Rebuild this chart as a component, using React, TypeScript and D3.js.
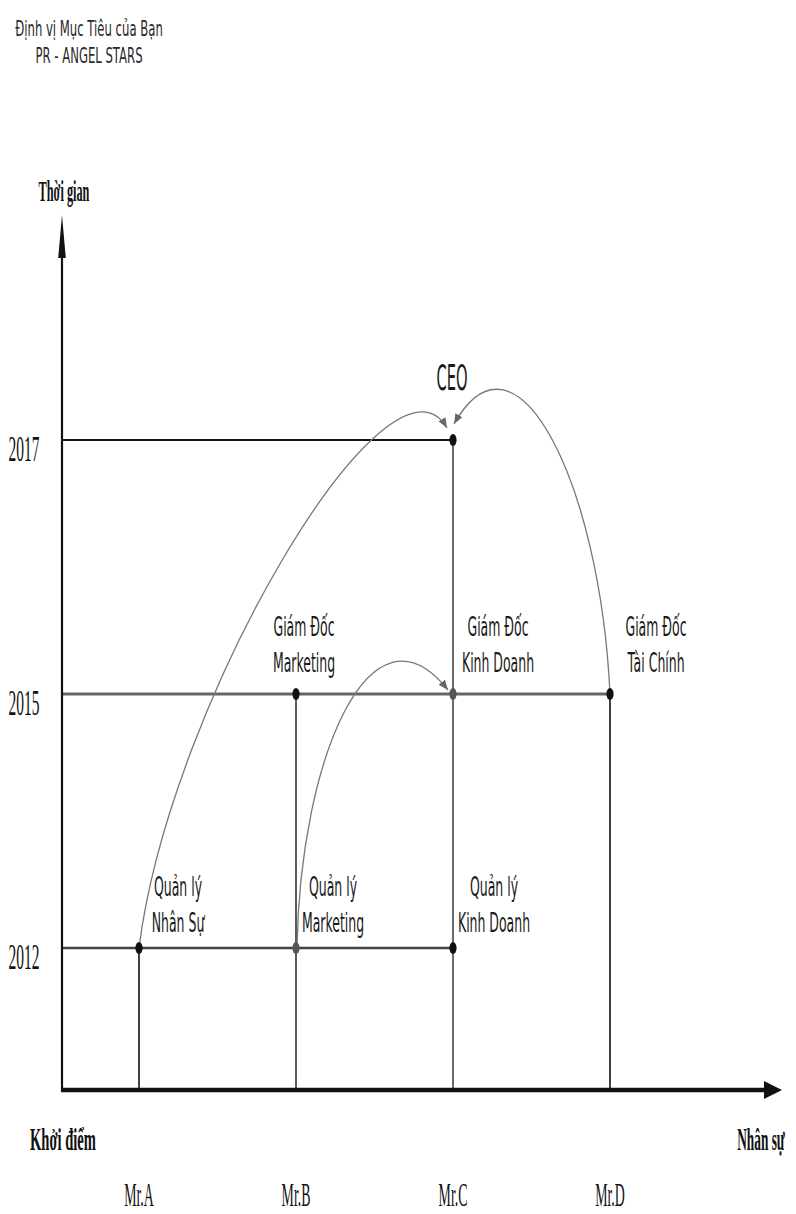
import React from "react";
import * as d3 from "d3";

// ---------- data ----------
const people = ["Mr.A", "Mr.B", "Mr.C", "Mr.D"];
const years = ["2012", "2015", "2017"];
const titleLines = ["Định vị Mục Tiêu của Bạn", "PR - ANGEL STARS"];
const yAxisTitle = "Thời gian";
const xAxisTitle = "Nhân sự";
const originLabel = "Khởi điểm";

const roles = [
  { id: "qlns", person: "Mr.A", year: "2012", lines: ["Quản lý", "Nhân Sự"] },
  { id: "qlmk", person: "Mr.B", year: "2012", lines: ["Quản lý", "Marketing"] },
  { id: "qlkd", person: "Mr.C", year: "2012", lines: ["Quản lý", "Kinh Doanh"] },
  { id: "gdmk", person: "Mr.B", year: "2015", lines: ["Giám Đốc", "Marketing"] },
  { id: "gdkd", person: "Mr.C", year: "2015", lines: ["Giám Đốc", "Kinh Doanh"] },
  { id: "gdtc", person: "Mr.D", year: "2015", lines: ["Giám Đốc", "Tài Chính"] },
  { id: "ceo", person: "Mr.C", year: "2017", lines: ["CEO"] },
];

const promotions = [
  { id: "p1", from: "qlns", to: "ceo" },
  { id: "p2", from: "qlmk", to: "gdkd" },
  { id: "p3", from: "gdtc", to: "ceo" },
];

// ---------- layout / style ----------
const W = 796;
const H = 1214;
const AXIS_X = 62;
const AXIS_Y = 1090;
const SANS = "'DejaVu Sans', sans-serif";
const SERIF = "'Liberation Serif', 'Times New Roman', serif";

const labelStyle: Record<string, { dx: number }> = {
  qlns: { dx: 39 },
  qlmk: { dx: 37 },
  qlkd: { dx: 41 },
  gdmk: { dx: 8 },
  gdkd: { dx: 45 },
  gdtc: { dx: 46 },
  ceo: { dx: -1 },
};
const dotColor: Record<string, string> = {
  qlns: "#111",
  qlmk: "#555",
  qlkd: "#111",
  gdmk: "#111",
  gdkd: "#555",
  gdtc: "#111",
  ceo: "#111",
};
const yearLineStyle: Record<string, { color: string; width: number }> = {
  "2012": { color: "#444", width: 2.6 },
  "2015": { color: "#666", width: 2.8 },
  "2017": { color: "#111", width: 2.2 },
};
const personLineColor: Record<string, string> = {
  "Mr.A": "#111",
  "Mr.B": "#333",
  "Mr.C": "#444",
  "Mr.D": "#111",
};
// curve shapes: start/end offsets and control offsets (relative to start/end)
const curveShape: Record<string, { s: [number, number]; e: [number, number]; c1: [number, number]; c2: [number, number] }> = {
  p1: { s: [0, 0], e: [-6, -12], c1: [31, -248], c2: [-57, -98] },
  p2: { s: [1, 0], e: [-5, -4], c1: [3, -188], c2: [-78, -98] },
  p3: { s: [0, 0], e: [1, -16], c1: [-10, -212], c2: [62, -110] },
};

const x = d3.scalePoint<string>().domain(people).range([139, 610]);
const y = d3.scalePoint<string>().domain(years).range([948, 440]);

function Squeezed(props: {
  x: number;
  y: number;
  sx: number;
  anchor?: string;
  size: number;
  family: string;
  weight?: string | number;
  fill?: string;
  children: React.ReactNode;
}) {
  return (
    <g transform={`translate(${props.x},${props.y}) scale(${props.sx},1)`}>
      <text
        x={0}
        y={0}
        textAnchor={props.anchor || "middle"}
        fontSize={props.size}
        fontFamily={props.family}
        fontWeight={props.weight || "normal"}
        fill={props.fill || "#111"}
      >
        {props.children}
      </text>
    </g>
  );
}

export default function App() {
  const roleById = new Map(roles.map((r) => [r.id, r]));

  // horizontal lines: from axis to furthest person for each year
  const hLines = years.map((yr) => {
    const xs = roles.filter((r) => r.year === yr).map((r) => x(r.person)!);
    return { year: yr, x2: d3.max(xs)! };
  });
  // vertical lines: from axis to highest year for each person
  const vLines = people.map((p) => {
    const ys = roles.filter((r) => r.person === p).map((r) => y(r.year)!);
    return { person: p, y2: d3.min(ys)! };
  });

  const curves = promotions.map((pr) => {
    const a = roleById.get(pr.from)!;
    const b = roleById.get(pr.to)!;
    const sh = curveShape[pr.id];
    const sx0 = x(a.person)! + sh.s[0];
    const sy0 = y(a.year)! + sh.s[1];
    const ex = x(b.person)! + sh.e[0];
    const ey = y(b.year)! + sh.e[1];
    const p = d3.path();
    p.moveTo(sx0, sy0);
    p.bezierCurveTo(sx0 + sh.c1[0], sy0 + sh.c1[1], ex + sh.c2[0], ey + sh.c2[1], ex, ey);
    return { id: pr.id, d: p.toString() };
  });

  return (
    <svg
      width={W}
      height={H}
      viewBox={`0 0 ${W} ${H}`}
      style={{ position: "absolute", left: 0, top: 0, background: "#fff" }}
    >
      <defs>
        <marker
          id="arr"
          markerUnits="userSpaceOnUse"
          markerWidth={12}
          markerHeight={10}
          refX={10}
          refY={4}
          orient="auto"
        >
          <path d="M0,0 L10,4 L0,8 Z" fill="#666" />
        </marker>
      </defs>
      <rect x={0} y={0} width={W} height={H} fill="#fff" />

      {/* title */}
      {titleLines.map((t, i) => (
        <Squeezed key={t} x={89} y={36 + i * 27} sx={0.53} size={22} family={SANS} fill="#2a2a2a">
          {t}
        </Squeezed>
      ))}

      {/* y axis title */}
      <Squeezed x={64} y={201} sx={0.41} size={30} family={SERIF} weight="bold">
        {yAxisTitle}
      </Squeezed>

      {/* year grid lines */}
      {hLines.map((l) => (
        <line
          key={l.year}
          x1={AXIS_X}
          x2={l.x2}
          y1={y(l.year)}
          y2={y(l.year)}
          stroke={yearLineStyle[l.year].color}
          strokeWidth={yearLineStyle[l.year].width}
        />
      ))}
      {/* person lines */}
      {vLines.map((l) => (
        <line
          key={l.person}
          x1={x(l.person)}
          x2={x(l.person)}
          y1={AXIS_Y}
          y2={l.y2}
          stroke={personLineColor[l.person]}
          strokeWidth={1.6}
        />
      ))}

      {/* year labels */}
      {years.map((yr) => (
        <Squeezed key={yr} x={24} y={y(yr)! + 21} sx={0.43} size={36} family={SERIF}>
          {yr}
        </Squeezed>
      ))}

      {/* curves */}
      {curves.map((c) => (
        <path key={c.id} d={c.d} fill="none" stroke="#777" strokeWidth={1.3} markerEnd="url(#arr)" />
      ))}

      {/* dots */}
      {roles.map((r) => (
        <ellipse key={r.id} cx={x(r.person)} cy={y(r.year)} rx={3.6} ry={6} fill={dotColor[r.id]} />
      ))}

      {/* role labels */}
      {roles.map((r) => {
        const px = x(r.person)! + labelStyle[r.id].dx;
        const py = y(r.year)!;
        if (r.lines.length === 1) {
          return (
            <Squeezed key={r.id} x={px} y={py - 50} sx={0.42} size={35} family={SANS} fill="#1a1a1a">
              {r.lines[0]}
            </Squeezed>
          );
        }
        return (
          <g key={r.id}>
            {r.lines.map((ln, i) => (
              <Squeezed
                key={ln}
                x={px}
                y={py - (r.year === "2015" ? 58 : 52) + i * 36}
                sx={0.48}
                size={26}
                family={SANS}
                fill="#1a1a1a"
              >
                {ln}
              </Squeezed>
            ))}
          </g>
        );
      })}

      {/* y axis */}
      <line x1={AXIS_X} x2={AXIS_X} y1={AXIS_Y + 2} y2={245} stroke="#111" strokeWidth={2.2} />
      <path d={`M${AXIS_X},215 L${AXIS_X + 3.8},258 L${AXIS_X - 3.8},258 Z`} fill="#111" />

      {/* x axis */}
      <line x1={AXIS_X - 1} x2={770} y1={AXIS_Y} y2={AXIS_Y} stroke="#111" strokeWidth={4.5} />
      <path d={`M782,${AXIS_Y} L764,${AXIS_Y - 9} L764,${AXIS_Y + 9} Z`} fill="#111" />

      {/* x axis labels */}
      <Squeezed x={63} y={1150} sx={0.47} size={31} family={SERIF} weight="bold">
        {originLabel}
      </Squeezed>
      <Squeezed x={761} y={1150} sx={0.43} size={31} family={SERIF} weight="bold">
        {xAxisTitle}
      </Squeezed>
      {people.map((p) => (
        <Squeezed key={p} x={x(p)!} y={1206} sx={0.42} size={33} family={SERIF}>
          {p}
        </Squeezed>
      ))}
    </svg>
  );
}
